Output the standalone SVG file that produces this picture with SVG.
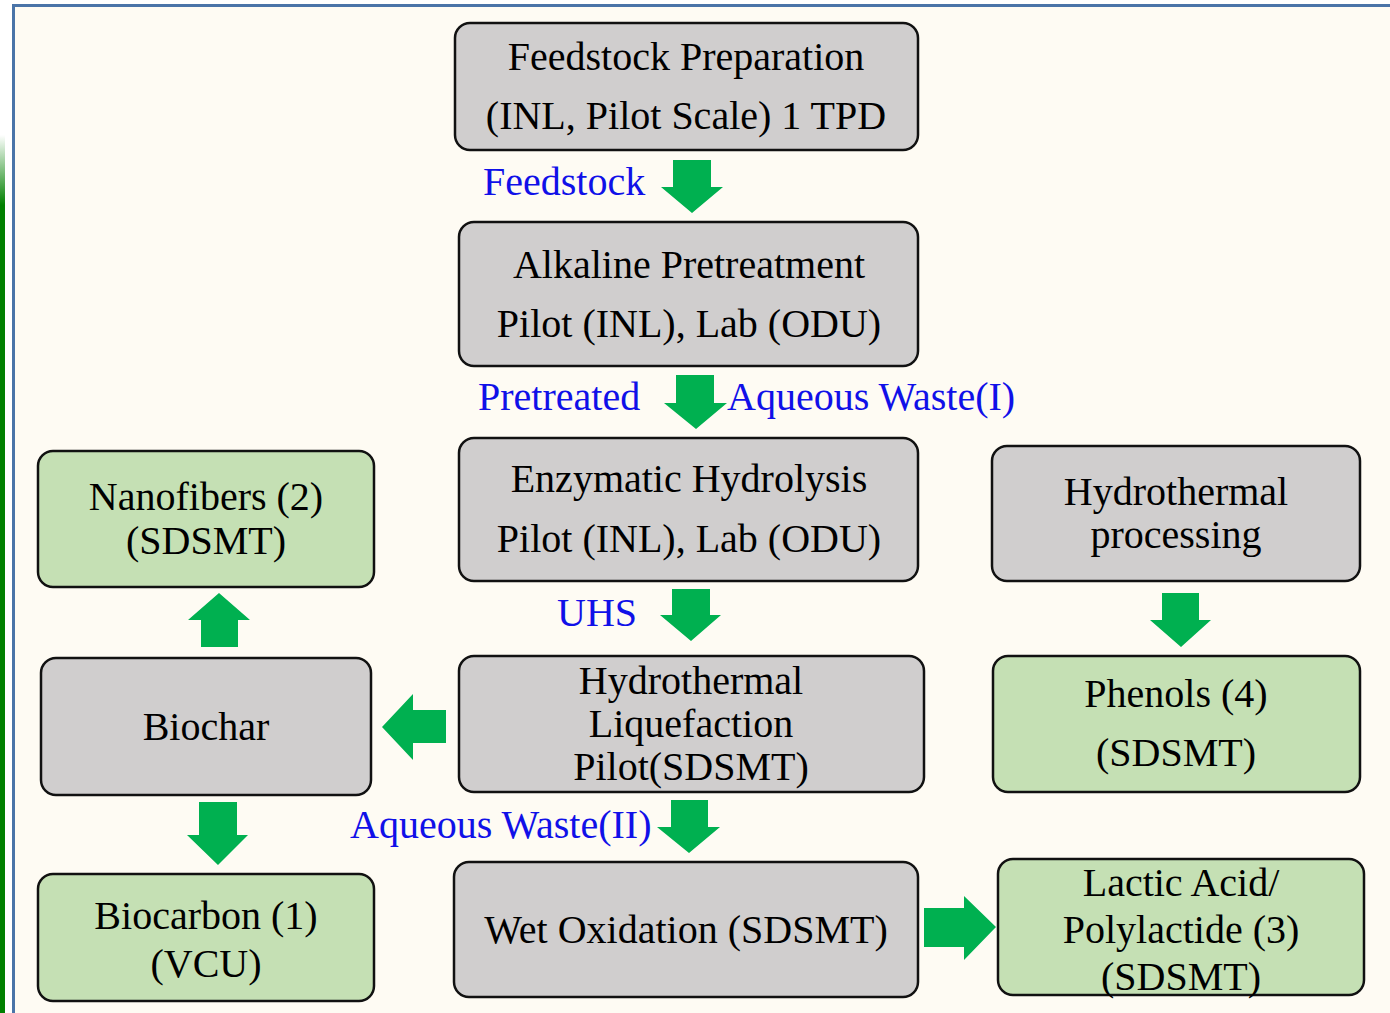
<svg xmlns="http://www.w3.org/2000/svg" width="1390" height="1013" viewBox="0 0 1390 1013">
<style>
.box{stroke:#111;stroke-width:2.5}
.gray{fill:#D0CECE}
.green{fill:#C5E0B4}
.t{font-family:"Liberation Serif","Times New Roman",serif;font-size:40px;fill:#000;text-anchor:middle}
.b{font-family:"Liberation Serif","Times New Roman",serif;font-size:40px;fill:#1010E8}
.arr{fill:#00B050}
</style>
<defs>
<linearGradient id="gs" x1="0" y1="0" x2="0" y2="1" gradientUnits="objectBoundingBox">
<stop offset="0" stop-color="#008000" stop-opacity="0"/>
<stop offset="0.08" stop-color="#008000" stop-opacity="1"/>
<stop offset="1" stop-color="#008000"/>
</linearGradient>
</defs>
<rect x="0" y="0" width="1390" height="1013" fill="#FFFFFF"/>
<rect x="14" y="6" width="1376" height="1007" fill="#FEFBF3"/>
<rect x="0" y="135" width="5" height="878" fill="url(#gs)"/>
<path d="M13.5 1013 V5.5 H1390" fill="none" stroke="#4A74A8" stroke-width="3"/>

<g id="feedstock-prep"><rect class="box gray" x="455" y="23" width="463" height="127" rx="15"/><text class="t" x="686" y="70">Feedstock Preparation</text><text class="t" x="686" y="129">(INL, Pilot Scale) 1 TPD</text></g>
<g id="alkaline"><rect class="box gray" x="459" y="222" width="459" height="144" rx="15"/><text class="t" x="689" y="278">Alkaline Pretreatment</text><text class="t" x="689" y="337">Pilot (INL), Lab (ODU)</text></g>
<g id="enzymatic"><rect class="box gray" x="459" y="438" width="459" height="143" rx="15"/><text class="t" x="689" y="492">Enzymatic Hydrolysis</text><text class="t" x="689" y="552">Pilot (INL), Lab (ODU)</text></g>
<g id="hydrothermal-processing"><rect class="box gray" x="992" y="446" width="368" height="135" rx="15"/><text class="t" x="1176" y="505">Hydrothermal</text><text class="t" x="1176" y="548">processing</text></g>
<g id="nanofibers"><rect class="box green" x="38" y="451" width="336" height="136" rx="15"/><text class="t" x="206" y="510">Nanofibers (2)</text><text class="t" x="206" y="554">(SDSMT)</text></g>
<g id="biochar"><rect class="box gray" x="41" y="658" width="330" height="137" rx="15"/><text class="t" x="206" y="740">Biochar</text></g>
<g id="htl"><rect class="box gray" x="459" y="656" width="465" height="136" rx="15"/><text class="t" x="691" y="694">Hydrothermal</text><text class="t" x="691" y="737">Liquefaction</text><text class="t" x="691" y="780">Pilot(SDSMT)</text></g>
<g id="phenols"><rect class="box green" x="993" y="656" width="367" height="136" rx="15"/><text class="t" x="1176" y="707">Phenols (4)</text><text class="t" x="1176" y="766">(SDSMT)</text></g>
<g id="biocarbon"><rect class="box green" x="38" y="874" width="336" height="127" rx="15"/><text class="t" x="206" y="929">Biocarbon (1)</text><text class="t" x="206" y="977">(VCU)</text></g>
<g id="wet-oxidation"><rect class="box gray" x="454" y="862" width="464" height="135" rx="15"/><text class="t" x="686" y="943">Wet Oxidation (SDSMT)</text></g>
<g id="lactic"><rect class="box green" x="998" y="859" width="366" height="136" rx="15"/><text class="t" x="1181" y="896">Lactic Acid/</text><text class="t" x="1181" y="943">Polylactide (3)</text><text class="t" x="1181" y="990">(SDSMT)</text></g>

<g id="connectors">
<polygon class="arr" points="673,160 711,160 711,187 723,187 692,213 661,187 673,187"/>
<polygon class="arr" points="676,375 714,375 714,403 727,403 696,429 664,403 676,403"/>
<polygon class="arr" points="672,589 710,589 710,615 721,615 691,641 660,615 672,615"/>
<polygon class="arr" points="1162,593 1199,593 1199,620 1211,620 1181,647 1150,620 1162,620"/>
<polygon class="arr" points="671,800 708,800 708,827 720,827 689,853 657,827 671,827"/>
<polygon class="arr" points="446,710 413,710 413,694 382,727 413,760 413,743 446,743"/>
<polygon class="arr" points="924,908 964,908 964,896 996,927 964,960 964,947 924,947"/>
<polygon class="arr" points="201,647 238,647 238,620 250,620 219,593 188,620 201,620"/>
<polygon class="arr" points="199,802 237,802 237,835 248,835 218,865 187,835 199,835"/>
<text class="b" x="483" y="195">Feedstock</text>
<text class="b" x="478" y="410">Pretreated</text>
<text class="b" x="727" y="410">Aqueous Waste(I)</text>
<text class="b" x="557" y="626">UHS</text>
<text class="b" x="350" y="838">Aqueous Waste(II)</text>
</g>
</svg>
